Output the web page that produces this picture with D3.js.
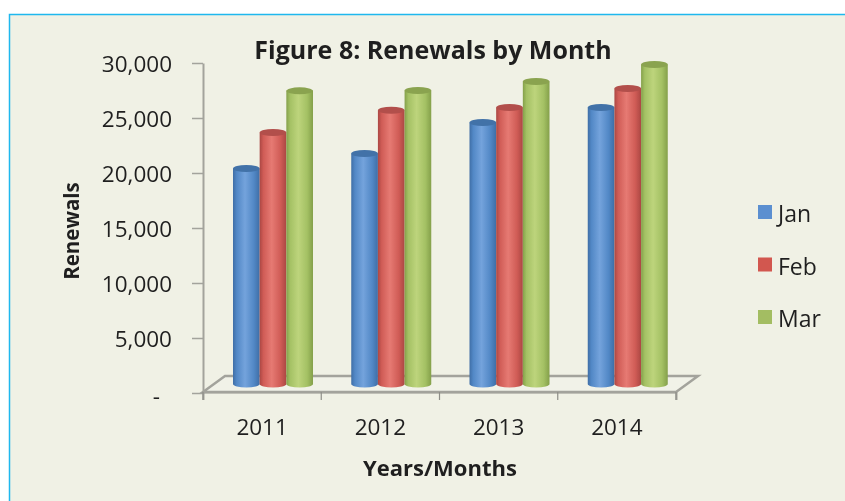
<!DOCTYPE html>
<html><head><meta charset="utf-8">
<script src="https://cdn.jsdelivr.net/npm/d3@7"></script>
<style>html,body{margin:0;padding:0;background:#fff}svg{display:block}text{font-family:"Open Sans",sans-serif;fill:#1f1f1f}
#c>g,#c>text{filter:blur(0.45px)}</style>
</head><body><svg id="c" width="845" height="501"></svg>
<script>
const years = ["2011","2012","2013","2014"];
const months = ["Jan","Feb","Mar"];
const jan = [19770,21140,23950,25320];
const feb = [23050,25070,25320,27050];
const mar = [26830,26860,27680,29230];
const yTicks = [0,5000,10000,15000,20000,25000,30000];
const seriesColors = {Jan:["#4272a8","#74a3dc","#5288c6","#3f6ea6"],Feb:["#b24f4b","#e67a73","#d05c56","#ab4743"],Mar:["#8aa34f","#bdd47c","#a4c164","#84a04a"]};
const legendColors = ["#5b8fd0","#d2574f","#a3bd62"];
const values = {Jan:jan,Feb:feb,Mar:mar};

const svg = d3.select("#c");
const defs = svg.append("defs");
months.forEach(m=>{
  const c = seriesColors[m];
  const g = defs.append("linearGradient").attr("id","g"+m);
  [[0,c[3]],[0.14,c[2]],[0.45,c[1]],[0.78,c[2]],[1,c[3]]].forEach(s=>g.append("stop").attr("offset",s[0]).attr("stop-color",s[1]));
});

// panel
svg.append("rect").attr("x",9.5).attr("y",14.5).attr("width",845).attr("height",500)
  .attr("fill","#f0f1e5").attr("stroke","#1fb8ee").attr("stroke-width",1.5);

const plot = {l:203,r:676,t:63,b:393};
const depth = {dx:22,dy:17};
const barShift = {dx:0,dy:-7};
const y = d3.scaleLinear().domain([0,30000]).range([plot.b,plot.t]);
const x0 = d3.scaleBand().domain(years).range([plot.l,plot.r]);
const x1 = d3.scaleBand().domain(months).range([30,110]);
const axisGrey = "#a3a39c";

// floor
svg.append("path").attr("fill","#f1f2e8").attr("stroke",axisGrey).attr("stroke-width",2.5)
  .attr("d",d3.line()([[plot.l,plot.b-1],[plot.l+depth.dx,plot.b-depth.dy],[plot.r+depth.dx,plot.b-depth.dy],[plot.r,plot.b-1]])+"Z");

// axes
const yAxis = d3.axisLeft(y).tickValues(yTicks).tickSize(0).tickPadding(31)
  .tickFormat(d=>d===0?"-":d3.format(",")(d));
const gy = svg.append("g").attr("transform",`translate(${plot.l},0)`).call(yAxis);
gy.select(".domain").attr("stroke",axisGrey).attr("stroke-width",2);
gy.selectAll(".tick line").attr("x2",-11).attr("stroke",axisGrey).attr("stroke-width",1.5);
gy.selectAll("text").attr("font-size",22.5).attr("fill","#1f1f1f").attr("dy","0.32em").attr("y",d=>d===0?3.5:1.5)
  .attr("dx",d=>d===0?-12:0);

const xAxis = d3.axisBottom(x0).tickSizeInner(8).tickSizeOuter(8).tickPadding(19);
const gx = svg.append("g").attr("transform",`translate(0,${plot.b-1})`).call(xAxis);
gx.select(".domain").attr("stroke",axisGrey).attr("stroke-width",2);
gx.selectAll(".tick line").remove();
gx.selectAll(".sep").data(d3.range(years.length+1)).join("line").attr("class","sep")
  .attr("x1",i=>plot.l+i*x0.step()).attr("x2",i=>plot.l+i*x0.step()).attr("y1",0).attr("y2",8)
  .attr("stroke","#8e8e88").attr("stroke-width",1.2);
gx.selectAll("text").attr("font-size",22.5).attr("fill","#1f1f1f");

// bars
const ry = 3.5;
years.forEach((yr,i)=>{
  months.forEach(m=>{
    const v = values[m][i];
    const bx = x0(yr)+x1(m)+barShift.dx, w = x1.bandwidth();
    const top = y(v)+barShift.dy, base = y(0)+barShift.dy;
    const g = svg.append("g");
    g.append("path").attr("fill",`url(#g${m})`)
      .attr("d",`M${bx},${top}L${bx},${base-2}A${w/2},${ry} 0 0 0 ${bx+w},${base-2}L${bx+w},${top}Z`);
    g.append("ellipse").attr("cx",bx+w/2).attr("cy",top).attr("rx",w/2).attr("ry",ry)
      .attr("fill",seriesColors[m][0]);
  });
});

// titles
svg.append("text").attr("x",433).attr("y",59).attr("text-anchor","middle").attr("font-size",25).attr("font-weight",700).text("Figure 8: Renewals by Month");
svg.append("text").attr("transform","translate(79,231) rotate(-90)").attr("text-anchor","middle").attr("font-size",20.5).attr("font-weight",700).text("Renewals");
svg.append("text").attr("x",440).attr("y",476).attr("text-anchor","middle").attr("font-size",22).attr("font-weight",700).text("Years/Months");

// legend
const ly = d3.scalePoint().domain(months).range([212,317]);
months.forEach((m,i)=>{
  svg.append("rect").attr("x",758).attr("y",ly(m)-7).attr("width",14).attr("height",14).attr("fill",legendColors[i]);
  svg.append("text").attr("x",778).attr("y",ly(m)+10).attr("font-size",23).attr("fill","#2b2b2b").text(m);
});
</script></body></html>
